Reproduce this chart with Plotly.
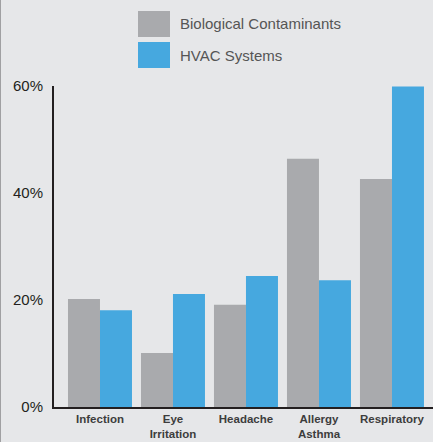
import plotly.graph_objects as go

categories = ["Infection", "Eye<br>Irritation", "Headache", "Allergy<br>Asthma", "Respiratory"]
biological = [20.2, 10.1, 19.1, 46.4, 42.6]
hvac = [18.1, 21.1, 24.5, 23.7, 59.9]
series_names = ["Biological Contaminants", "HVAC Systems"]
tick_vals = [0, 20, 40, 60]
tick_text = ["0%", "20%", "40%", "60%"]

GRAY = "#a9aaad"
BLUE = "#46a8df"
BG = "#e6e7e9"
FONT = "Liberation Sans"

W, H = 433, 442
L, R, T, B = 54, 0, 86, 35
pw, ph = W - L - R, H - T - B

def px(x):
    return (x - L) / pw

def py(y):
    return (H - B - y) / ph

fig = go.Figure()
fig.add_trace(go.Bar(x=categories, y=biological, name=series_names[0],
                     marker=dict(color=GRAY, line=dict(width=0)), showlegend=False))
fig.add_trace(go.Bar(x=categories, y=hvac, name=series_names[1],
                     marker=dict(color=BLUE, line=dict(width=0)), showlegend=False))

shapes = [
    dict(type="rect", xref="paper", yref="paper", x0=px(138), x1=px(170), y0=py(37), y1=py(11),
         fillcolor=GRAY, line=dict(width=0)),
    dict(type="rect", xref="paper", yref="paper", x0=px(138), x1=px(170), y0=py(68), y1=py(42),
         fillcolor=BLUE, line=dict(width=0)),
    dict(type="line", xref="paper", yref="paper", x0=px(0.5), x1=px(0.5), y0=py(442), y1=py(0),
         line=dict(color="#a0a0a2", width=1)),
]
annotations = [
    dict(xref="paper", yref="paper", x=px(178), y=py(24), text=series_names[0], showarrow=False,
         xanchor="left", yanchor="middle", font=dict(family=FONT, size=15, color="#555555")),
    dict(xref="paper", yref="paper", x=px(178), y=py(55), text=series_names[1], showarrow=False,
         xanchor="left", yanchor="middle", font=dict(family=FONT, size=15, color="#555555")),
]

fig.update_layout(
    width=W, height=H,
    margin=dict(l=L, r=R, t=T, b=B, pad=0),
    paper_bgcolor=BG, plot_bgcolor=BG,
    barmode="group", bargap=9 / 73, bargroupgap=0,
    shapes=shapes, annotations=annotations,
    showlegend=False,
    xaxis=dict(range=[-0.63, 4.562], showgrid=False, zeroline=False, showline=True,
               linecolor="#231f20", linewidth=2, ticks="", fixedrange=True,
               ticklabelstandoff=0,
               tickfont=dict(family=FONT, size=11.5, color="#3d3d3d", weight="bold")),
    yaxis=dict(range=[0, 60], tickvals=tick_vals, ticktext=tick_text, showgrid=False,
               zeroline=False, showline=True, linecolor="#231f20", linewidth=2, ticks="",
               ticklabelstandoff=6, fixedrange=True,
               tickfont=dict(family=FONT, size=15, color="#231f20")),
)

fig.write_html("out.html", config={"displayModeBar": False},
               post_script="document.body.style.margin='0';document.body.style.overflow='hidden';")
